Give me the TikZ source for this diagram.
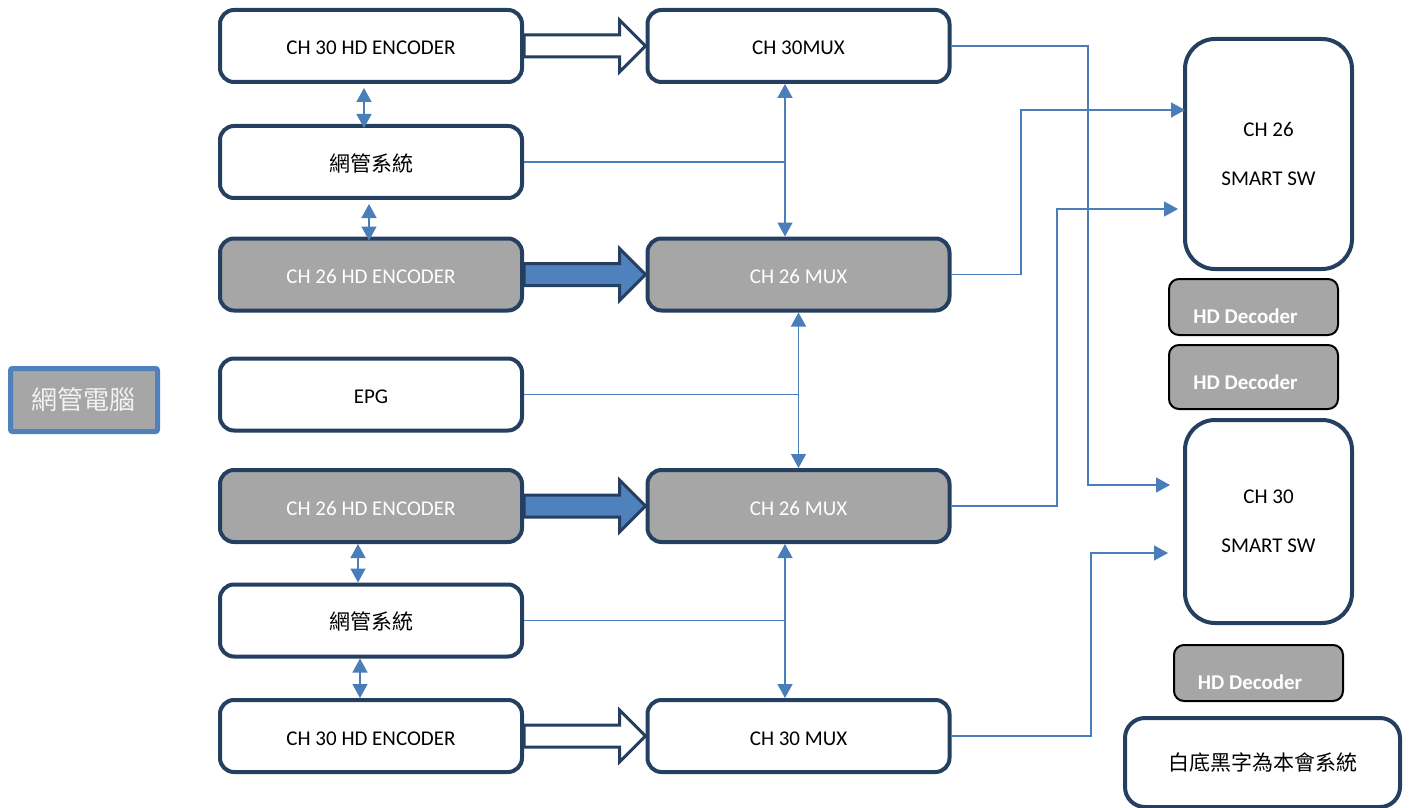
\documentclass[tikz,border=0pt]{standalone}
\usepackage{fontspec}
\setmainfont{Carlito}
\newfontfamily\cjk{Noto Sans CJK TC}
\usepackage{tikz}
\usetikzlibrary{calc,arrows.meta}
\definecolor{navy}{RGB}{36,63,96}
\definecolor{boxgray}{RGB}{166,166,166}
\definecolor{linkblue}{RGB}{74,126,187}
\definecolor{accblue}{RGB}{79,129,189}

\newcommand{\fatarrow}[3]{%
  \draw[fat, fill=#3] ($(#1.east)+(0,5.5pt)$) -- ($(#2.west)+(-13pt,5.5pt)$)
    -- ($(#2.west)+(-13pt,13pt)$) -- (#2.west) -- ($(#2.west)+(-13pt,-13pt)$)
    -- ($(#2.west)+(-13pt,-5.5pt)$) -- ($(#1.east)+(0,-5.5pt)$) -- cycle;}

\begin{document}
\begin{tikzpicture}[x=0.5pt, y=-0.5pt,
  every node/.style={font=\fontsize{10.5pt}{12.6pt}\selectfont},
  frame/.style={draw=navy, line width=2pt, fill=white, inner sep=0pt},
  unit/.style={frame, rounded corners=7pt, minimum width=151pt, minimum height=36pt,
               text height=9pt, text depth=0pt},
  grayunit/.style={unit, fill=boxgray, text=white},
  dec/.style={draw=black, line width=1pt, fill=boxgray, rounded corners=5pt,
              minimum width=84.5pt, inner sep=0pt},
  dectext/.style={font=\fontsize{10.5pt}{12.6pt}\selectfont\bfseries, text=white},
  fat/.style={draw=navy, line width=1.5pt, line join=miter},
  link/.style={draw=linkblue, line width=0.75pt},
  bi/.style={link, {Triangle[length=7pt,width=7.5pt]}-{Triangle[length=7pt,width=7.5pt]}},
  feed/.style={link, -{Triangle[length=7pt,width=7.5pt]}}]
\useasboundingbox (0,0) rectangle (1409,808);
%
% encoders, management and mux
\node[unit] (e30a) at (371,46) {CH 30 HD ENCODER};
\node[unit] (m30a) at (798.5,46) {CH 30MUX};
\node[unit] (nm1) at (371,162) {\cjk 網管系統};
\node[grayunit] (e26a) at (371,274.5) {CH 26 HD ENCODER};
\node[grayunit] (m26a) at (798.5,274.5) {CH 26 MUX};
\node[unit] (epg) at (371,394.5) {EPG};
\node[grayunit] (e26b) at (371,506) {CH 26 HD ENCODER};
\node[grayunit] (m26b) at (798.5,506) {CH 26 MUX};
\node[unit] (nm2) at (371,620.5) {\cjk 網管系統};
\node[unit] (e30b) at (371,736) {CH 30 HD ENCODER};
\node[unit] (m30b) at (798.5,736) {CH 30 MUX};
%
% switches and decoders
\node[frame, rounded corners=15pt, minimum width=83.5pt, minimum height=115pt, align=center]
  (sw26) at (1268.5,154) {CH 26\\[11.9pt]SMART SW};
\node[dec, minimum height=28pt, label={[dectext, xshift=-4pt, yshift=-4.5pt]center:HD Decoder}]
  (dec1) at (1253.5,307) {};
\node[dec, minimum height=32pt, label={[dectext, xshift=-4pt, yshift=-2.5pt]center:HD Decoder}]
  (dec2) at (1253.5,377) {};
\node[frame, rounded corners=15pt, minimum width=83.5pt, minimum height=101.5pt, align=center]
  (sw30) at (1268.5,521.5) {CH 30\\[11.9pt]SMART SW};
\node[dec, minimum height=28pt, label={[dectext, xshift=-4.25pt, yshift=-4.5pt]center:HD Decoder}]
  (dec3) at (1258.5,673) {};
\node[frame, rounded corners=10pt, minimum width=137.5pt, minimum height=44.5pt]
  (key) at (1262.5,762.5) {\cjk 白底黑字為本會系統};
%
\node[draw=accblue, line width=2.5pt, fill=boxgray, text=white!95!black, rounded corners=1pt,
      minimum width=73.5pt, minimum height=31.5pt, inner sep=0pt,
      font={\cjk\fontsize{13pt}{15pt}\selectfont}] (pc) at (84,400) {網管電腦};
%
% stream arrows
\fatarrow{e30a}{m30a}{white}
\fatarrow{e26a}{m26a}{accblue}
\fatarrow{e26b}{m26b}{accblue}
\fatarrow{e30b}{m30b}{white}
%
% control links
\draw[bi] ([xshift=-3.5pt,yshift=-2pt]e30a.south) -- ([xshift=-3.5pt,yshift=-2pt]nm1.north);
\draw[bi] ([xshift=-1pt,yshift=-2pt]nm1.south) -- ([xshift=-1pt,yshift=-2pt]e26a.north);
\draw[bi] ([xshift=-6.5pt]e26b.south) -- ([xshift=-6.5pt]nm2.north);
\draw[bi] ([xshift=-5.5pt]nm2.south) -- ([xshift=-5.5pt]e30b.north);
\coordinate (j1) at (785,162);
\draw[link] (nm1.east) -- (j1);
\draw[bi] (m30a.south -| j1) -- (m26a.north -| j1);
\draw[link] (epg.east) -- (epg.east -| m26a.south);
\draw[bi] (m26a.south) -- (m26b.north);
\coordinate (j2) at (785,620.5);
\draw[link] (nm2.east) -- (j2);
\draw[bi] (m26b.south -| j2) -- (m30b.north -| j2);
%
% mux outputs to switches
\coordinate (in26a) at (1185,110);
\coordinate (in26b) at (1178,209);
\coordinate (in30a) at (1170,485);
\coordinate (in30b) at (1168,553);
\draw[feed] (m30a.east) -| (1088,485) -- (in30a);
\draw[feed] (m26a.east) -| (1021,110) -- (in26a);
\draw[feed] (m26b.east) -| (1057,209) -- (in26b);
\draw[feed] (m30b.east) -| (1091,553) -- (in30b);
\end{tikzpicture}
\end{document}
